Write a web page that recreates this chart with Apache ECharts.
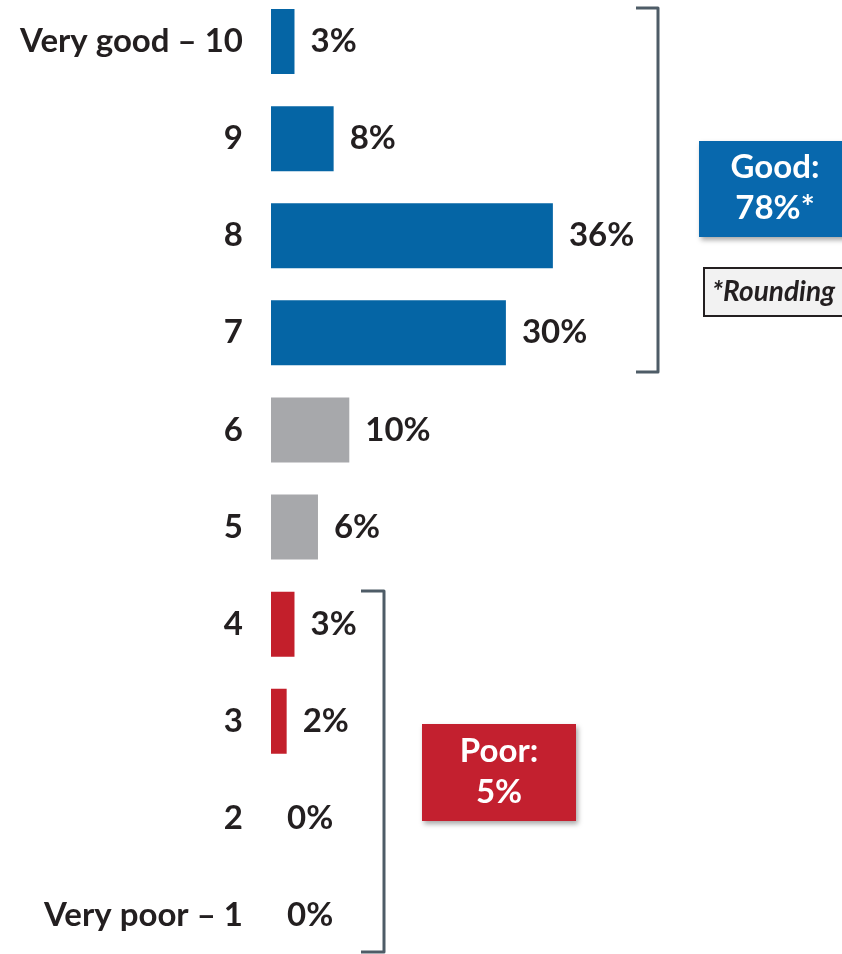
<!DOCTYPE html>
<html>
<head>
<meta charset="utf-8">
<script src="https://cdn.jsdelivr.net/npm/echarts@6/dist/echarts.min.js"></script>
<style>
  html, body { margin: 0; padding: 0; background: #ffffff; overflow: hidden; }
  /* the plot runs slightly past the page edges, so the canvas is shifted up */
  #chart { position: absolute; left: 0; top: -10px; width: 842px; height: 984px; }
</style>
</head>
<body>
<div id="chart"></div>
<script>
// Rating scale, top to bottom
const categories = ['Very good – 10', '9', '8', '7', '6', '5', '4', '3', '2', 'Very poor – 1'];
// Share of respondents per rating (%)
const values = [3, 8, 36, 30, 10, 6, 3, 2, 0, 0];
// Rating group per row: good (7-10), neutral (5-6), poor (1-4)
const groups = ['good', 'good', 'good', 'good', 'neutral', 'neutral', 'poor', 'poor', 'poor', 'poor'];

const groupColors = { good: '#0565a5', neutral: '#a7a8ab', poor: '#c31f2b' };
const FONT = 'Lato, "Open Sans", sans-serif';
const TEXT = '#231f20';
const BRACKET = '#4e5c67';
const OFF = 10; // canvas shift (px)

const chart = echarts.init(document.getElementById('chart'), null, { renderer: 'canvas' });

chart.setOption({
  animation: false,
  backgroundColor: '#ffffff',
  grid: { left: 271, top: 3, height: 971, width: 313.2, containLabel: false },
  xAxis: {
    type: 'value', min: 0, max: 40,
    show: false
  },
  yAxis: {
    type: 'category',
    data: categories,
    inverse: true,
    axisLine: { show: false },
    axisTick: { show: false },
    splitLine: { show: false },
    axisLabel: {
      margin: 28,
      fontFamily: FONT, fontWeight: 'bold', fontSize: 33, color: TEXT
    }
  },
  series: [{
    type: 'bar',
    barWidth: 65,
    data: values.map((v, i) => ({ value: v, itemStyle: { color: groupColors[groups[i]] } })),
    label: {
      show: true, position: 'right', distance: 16,
      formatter: p => p.value + '%',
      fontFamily: FONT, fontWeight: 'bold', fontSize: 33, color: TEXT
    }
  }],
  graphic: [
    // bracket around the "good" ratings
    {
      type: 'polyline', silent: true,
      shape: { points: [[636, 8 + OFF], [658, 8 + OFF], [658, 372 + OFF], [636, 372 + OFF]] },
      style: { stroke: BRACKET, lineWidth: 3, fill: null, lineJoin: 'round' }
    },
    // bracket around the "poor" ratings
    {
      type: 'polyline', silent: true,
      shape: { points: [[361, 591 + OFF], [384, 591 + OFF], [384, 952 + OFF], [361, 952 + OFF]] },
      style: { stroke: BRACKET, lineWidth: 3, fill: null, lineJoin: 'round' }
    },
    // Good summary box
    {
      type: 'rect', silent: true,
      shape: { x: 699, y: 141 + OFF, width: 152, height: 96 },
      style: { fill: '#0868ad', shadowColor: 'rgba(0,0,0,0.35)', shadowBlur: 5, shadowOffsetX: 2, shadowOffsetY: 3 }
    },
    {
      type: 'text', silent: true,
      style: {
        text: 'Good:\n78%*', x: 775, y: 188 + OFF, align: 'center', verticalAlign: 'middle',
        fill: '#ffffff', fontFamily: FONT, fontWeight: 'bold', fontSize: 33, lineHeight: 41
      }
    },
    // rounding note
    {
      type: 'rect', silent: true,
      shape: { x: 704, y: 268 + OFF, width: 160, height: 48 },
      style: { fill: '#f2f2f2', stroke: TEXT, lineWidth: 2 }
    },
    {
      type: 'text', silent: true,
      style: {
        text: '*Rounding', x: 712, y: 292 + OFF, verticalAlign: 'middle', fill: TEXT, fontFamily: FONT,
        fontWeight: 'bold', fontStyle: 'italic', fontSize: 28
      }
    },
    // Poor summary box
    {
      type: 'rect', silent: true,
      shape: { x: 422, y: 724 + OFF, width: 154, height: 97 },
      style: { fill: '#c3202f', shadowColor: 'rgba(0,0,0,0.35)', shadowBlur: 5, shadowOffsetX: 2, shadowOffsetY: 3 }
    },
    {
      type: 'text', silent: true,
      style: {
        text: 'Poor:\n5%', x: 499, y: 772 + OFF, align: 'center', verticalAlign: 'middle',
        fill: '#ffffff', fontFamily: FONT, fontWeight: 'bold', fontSize: 33, lineHeight: 41
      }
    }
  ]
});
</script>
</body>
</html>
